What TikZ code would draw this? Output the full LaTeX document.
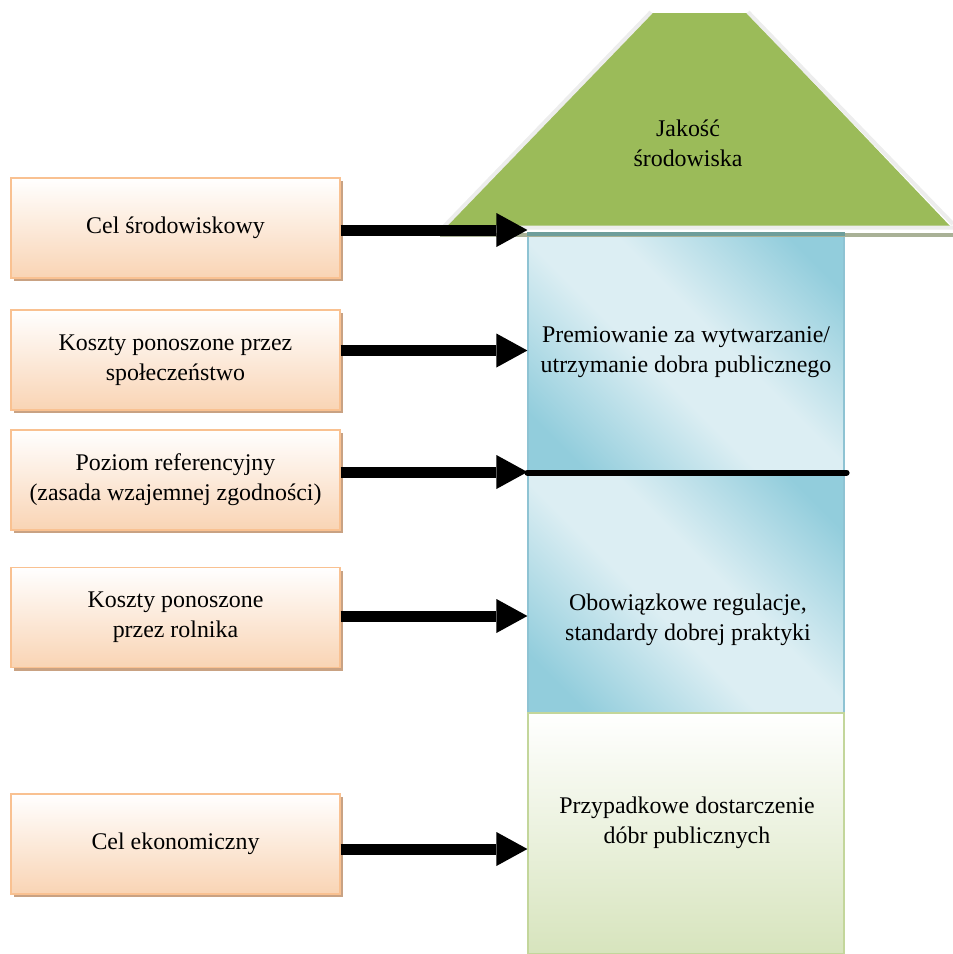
\documentclass[tikz,border=0pt]{standalone}
\usepackage{fontspec}
\setmainfont{Liberation Serif}
\usetikzlibrary{arrows.meta,shadows}
\definecolor{bD}{HTML}{92CDDC}
\definecolor{bL}{HTML}{DCEEF3}
\definecolor{bBorder}{HTML}{8EC3D3}
\definecolor{gTop}{HTML}{FFFFFF}
\definecolor{gBot}{HTML}{D7E4BD}
\definecolor{gBorder}{HTML}{C3D69B}
\definecolor{pBot}{HTML}{F9D4B4}
\definecolor{pBorder}{HTML}{F9C191}
\definecolor{pShadow}{HTML}{C9A283}
\definecolor{roofG}{HTML}{9BBB59}
\definecolor{roofEdge}{HTML}{EDEDED}
\definecolor{roofShadow}{HTML}{A9B196}
\definecolor{colTop}{HTML}{6E9E9B}
\pgfdeclarehorizontalshading{bluediag}{100bp}{color(0bp)=(bD); color(22bp)=(bD); color(44bp)=(bL); color(56bp)=(bL); color(78bp)=(bD); color(100bp)=(bD)}
\tikzset{
  txt/.style={font=\fontsize{23.9}{30}\selectfont, align=center, inner sep=0pt},
  leftbox/.style={txt, draw=pBorder, line width=1.2pt, top color=white, bottom color=pBot,
    minimum width=329pt, minimum height=100pt,
    drop shadow={shadow xshift=3pt, shadow yshift=-3pt, fill=pShadow, opacity=1, draw=none}},
  bluebox/.style={txt, draw=bBorder, line width=1.2pt, shading=bluediag, shading angle=45,
    minimum width=316pt},
  greenbox/.style={txt, draw=gBorder, line width=1.2pt, top color=gTop, bottom color=gBot,
    minimum width=316pt},
  arr/.style={line width=11pt, -{Triangle[length=31pt,width=34pt,line width=0pt]}},
}
\begin{document}
\begin{tikzpicture}[x=1pt,y=-1pt]
\useasboundingbox (0,0) rectangle (953,954);
% roof
\fill[roofG] (652,13) -- (747,13) -- (950,226) -- (446,226) -- cycle;
\draw[roofEdge, line width=4pt, line join=miter] (651,12) -- (443,227.5) -- (953,227.5) -- (953,227.5);
\draw[roofEdge, line width=4pt] (748,12) -- (953,224);
\node[txt] (roof) at (688,143) {Jakość\\środowiska};
% column
\node[bluebox, minimum height=239pt] (up) at (686,352.5) {Premiowanie za wytwarzanie/\\utrzymanie dobra publicznego};
\node[bluebox, minimum height=241pt] (low) at (686,592.5) {};
\node[greenbox, minimum height=241pt] (gr) at (686,833.5) {};
\node[txt] (lowtext) at (688,620) {Obowiązkowe regulacje,\\standardy dobrej praktyki};
\node[txt] (grtext) at (687,823) {Przypadkowe dostarczenie\\dóbr publicznych};
\draw[roofShadow, line width=4pt] (440,235) -- (953,235);
\draw[colTop, line width=4pt] (up.north west) ++(0,2) -- ([yshift=-2pt]up.north east);
% divider
\draw[line width=6pt, line cap=round] (up.south west) -- ([xshift=2pt]up.south east);
% left boxes
\node[leftbox] (b1) at (175.5,228) {Cel środowiskowy};
\node[leftbox] (b2) at (175.5,360) {Koszty ponoszone przez\\społeczeństwo};
\node[leftbox] (b3) at (175.5,480) {Poziom referencyjny\\(zasada wzajemnej zgodności)};
\node[leftbox] (b4) at (175.5,617.5) {Koszty ponoszone\\przez rolnika};
\node[leftbox] (b5) at (175.5,844) {Cel ekonomiczny};
% arrows
\coordinate (y1) at (0,230);
\coordinate (y2) at (0,350.5);
\coordinate (y3) at (0,472);
\coordinate (y4) at (0,616);
\coordinate (y5) at (0,849);
\draw[arr] (b1.east |- y1) -- (up.west |- y1);
\draw[arr] (b2.east |- y2) -- (up.west |- y2);
\draw[arr] (b3.east |- y3) -- (up.west |- y3);
\draw[arr] (b4.east |- y4) -- (low.west |- y4);
\draw[arr] (b5.east |- y5) -- (gr.west |- y5);
\end{tikzpicture}
\end{document}
